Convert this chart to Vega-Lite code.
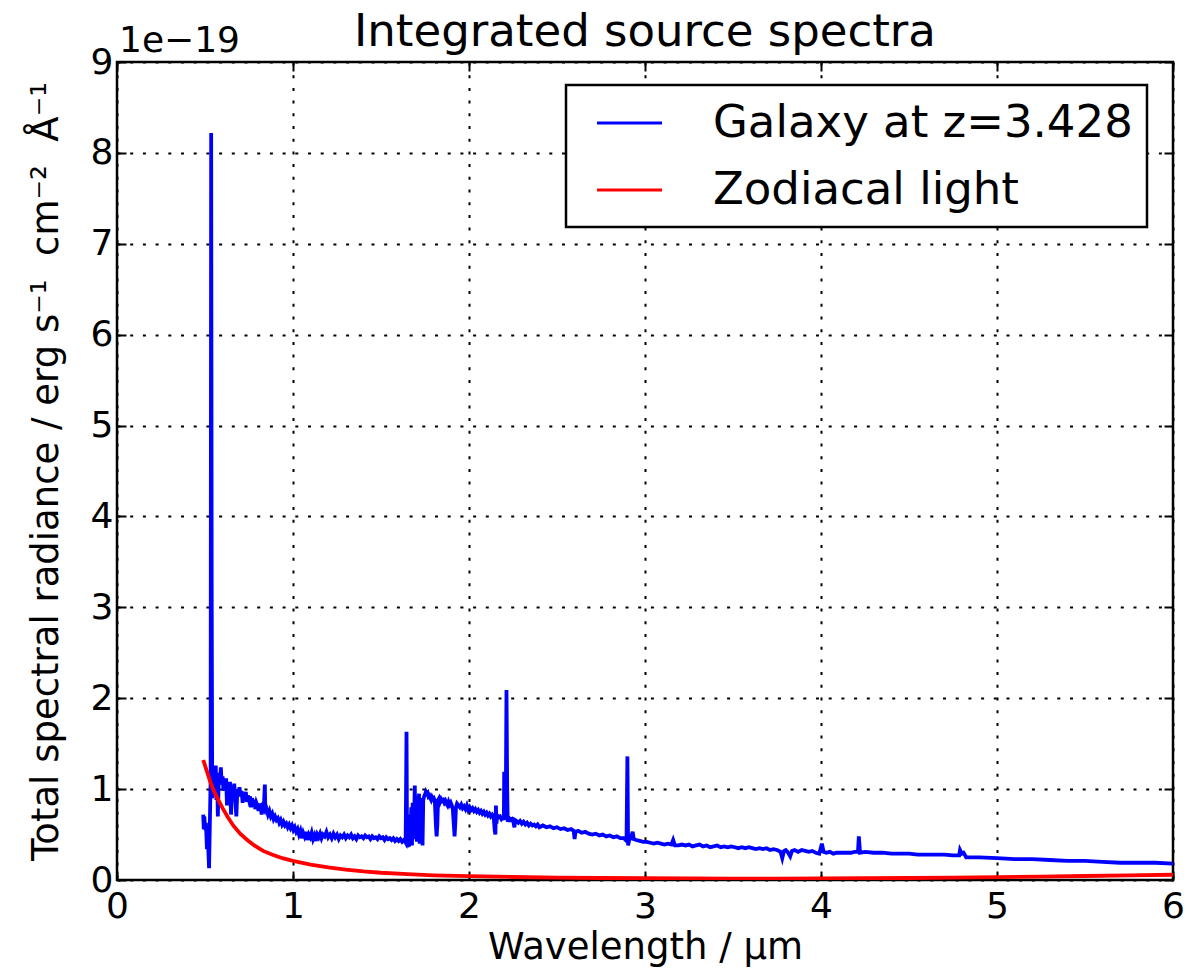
{
  "$schema": "https://vega.github.io/schema/vega-lite/v6.json",
  "width": 1056,
  "height": 818,
  "autosize": "none",
  "padding": {"left": 117, "top": 62, "right": 17, "bottom": 94},
  "background": "white",
  "title": {
    "text": "Integrated source spectra",
    "fontSize": 45,
    "fontWeight": "normal",
    "font": "DejaVu Sans",
    "color": "black",
    "anchor": "middle",
    "offset": -32
  },
  "config": {
    "font": "DejaVu Sans",
    "view": {"stroke": "black", "strokeWidth": 2.5},
    "axis": {
      "labelFont": "DejaVu Sans",
      "titleFont": "DejaVu Sans",
      "labelColor": "black",
      "titleColor": "black",
      "titleFontWeight": "normal",
      "labelFontSize": 36,
      "titleFontSize": 37,
      "labelFlush": false,
      "tickColor": "black",
      "tickWidth": 2,
      "tickSize": -9,
      "domain": false,
      "gridColor": "black",
      "gridOpacity": 1,
      "gridDash": [3, 9.7],
      "gridWidth": 2
    },
    "legend": {"strokeWidth": 2.5}
  },
  "datasets": {
    "galaxy": [
      {"wavelength": 0.490, "radiance": 0.72}, {"wavelength": 0.493, "radiance": 0.56}, {"wavelength": 0.496, "radiance": 0.70},
      {"wavelength": 0.499, "radiance": 0.62}, {"wavelength": 0.502, "radiance": 0.55}, {"wavelength": 0.505, "radiance": 0.63},
      {"wavelength": 0.508, "radiance": 0.50}, {"wavelength": 0.511, "radiance": 0.34}, {"wavelength": 0.514, "radiance": 0.58},
      {"wavelength": 0.517, "radiance": 0.47}, {"wavelength": 0.520, "radiance": 0.28}, {"wavelength": 0.523, "radiance": 0.13},
      {"wavelength": 0.526, "radiance": 0.45}, {"wavelength": 0.529, "radiance": 0.78}, {"wavelength": 0.532, "radiance": 1.10},
      {"wavelength": 0.535, "radiance": 8.22}, {"wavelength": 0.538, "radiance": 3.20}, {"wavelength": 0.541, "radiance": 0.90},
      {"wavelength": 0.545, "radiance": 1.15}, {"wavelength": 0.549, "radiance": 0.95}, {"wavelength": 0.553, "radiance": 1.22},
      {"wavelength": 0.557, "radiance": 1.05}, {"wavelength": 0.561, "radiance": 1.26}, {"wavelength": 0.565, "radiance": 0.88},
      {"wavelength": 0.569, "radiance": 1.12}, {"wavelength": 0.573, "radiance": 0.70}, {"wavelength": 0.577, "radiance": 1.02},
      {"wavelength": 0.581, "radiance": 1.18}, {"wavelength": 0.585, "radiance": 1.08}, {"wavelength": 0.590, "radiance": 1.24},
      {"wavelength": 0.595, "radiance": 1.05}, {"wavelength": 0.600, "radiance": 1.14}, {"wavelength": 0.605, "radiance": 0.98},
      {"wavelength": 0.610, "radiance": 1.10}, {"wavelength": 0.615, "radiance": 1.02}, {"wavelength": 0.620, "radiance": 1.12},
      {"wavelength": 0.625, "radiance": 0.82}, {"wavelength": 0.630, "radiance": 1.05}, {"wavelength": 0.636, "radiance": 0.98},
      {"wavelength": 0.642, "radiance": 1.08}, {"wavelength": 0.648, "radiance": 0.72}, {"wavelength": 0.654, "radiance": 1.02},
      {"wavelength": 0.660, "radiance": 0.95}, {"wavelength": 0.666, "radiance": 1.06}, {"wavelength": 0.672, "radiance": 0.90},
      {"wavelength": 0.678, "radiance": 0.70}, {"wavelength": 0.684, "radiance": 1.00}, {"wavelength": 0.690, "radiance": 0.94},
      {"wavelength": 0.696, "radiance": 1.02}, {"wavelength": 0.702, "radiance": 0.92}, {"wavelength": 0.708, "radiance": 0.98},
      {"wavelength": 0.714, "radiance": 0.85}, {"wavelength": 0.720, "radiance": 0.96}, {"wavelength": 0.726, "radiance": 0.90},
      {"wavelength": 0.732, "radiance": 0.97}, {"wavelength": 0.738, "radiance": 0.86}, {"wavelength": 0.744, "radiance": 0.93},
      {"wavelength": 0.750, "radiance": 0.88}, {"wavelength": 0.756, "radiance": 0.92}, {"wavelength": 0.762, "radiance": 0.80},
      {"wavelength": 0.768, "radiance": 0.90}, {"wavelength": 0.774, "radiance": 0.84}, {"wavelength": 0.780, "radiance": 0.88},
      {"wavelength": 0.786, "radiance": 0.78}, {"wavelength": 0.792, "radiance": 0.85}, {"wavelength": 0.798, "radiance": 0.82},
      {"wavelength": 0.804, "radiance": 0.76}, {"wavelength": 0.810, "radiance": 0.84}, {"wavelength": 0.816, "radiance": 0.80},
      {"wavelength": 0.822, "radiance": 0.72}, {"wavelength": 0.828, "radiance": 0.80}, {"wavelength": 0.834, "radiance": 0.78},
      {"wavelength": 0.840, "radiance": 1.05}, {"wavelength": 0.843, "radiance": 0.74}, {"wavelength": 0.850, "radiance": 0.78},
      {"wavelength": 0.858, "radiance": 0.72}, {"wavelength": 0.866, "radiance": 0.76}, {"wavelength": 0.874, "radiance": 0.70},
      {"wavelength": 0.882, "radiance": 0.73}, {"wavelength": 0.890, "radiance": 0.67}, {"wavelength": 0.898, "radiance": 0.70},
      {"wavelength": 0.906, "radiance": 0.66}, {"wavelength": 0.914, "radiance": 0.68}, {"wavelength": 0.922, "radiance": 0.63},
      {"wavelength": 0.930, "radiance": 0.66}, {"wavelength": 0.938, "radiance": 0.61}, {"wavelength": 0.946, "radiance": 0.64},
      {"wavelength": 0.954, "radiance": 0.60}, {"wavelength": 0.962, "radiance": 0.62}, {"wavelength": 0.970, "radiance": 0.58},
      {"wavelength": 0.978, "radiance": 0.61}, {"wavelength": 0.986, "radiance": 0.57}, {"wavelength": 0.994, "radiance": 0.60},
      {"wavelength": 1.002, "radiance": 0.55}, {"wavelength": 1.010, "radiance": 0.58}, {"wavelength": 1.018, "radiance": 0.53},
      {"wavelength": 1.026, "radiance": 0.56}, {"wavelength": 1.034, "radiance": 0.50}, {"wavelength": 1.042, "radiance": 0.54},
      {"wavelength": 1.050, "radiance": 0.46}, {"wavelength": 1.058, "radiance": 0.52}, {"wavelength": 1.066, "radiance": 0.48},
      {"wavelength": 1.074, "radiance": 0.53}, {"wavelength": 1.082, "radiance": 0.44}, {"wavelength": 1.090, "radiance": 0.50},
      {"wavelength": 1.098, "radiance": 0.47}, {"wavelength": 1.106, "radiance": 0.52}, {"wavelength": 1.114, "radiance": 0.45},
      {"wavelength": 1.122, "radiance": 0.49}, {"wavelength": 1.130, "radiance": 0.43}, {"wavelength": 1.138, "radiance": 0.50},
      {"wavelength": 1.146, "radiance": 0.47}, {"wavelength": 1.154, "radiance": 0.51}, {"wavelength": 1.162, "radiance": 0.46},
      {"wavelength": 1.170, "radiance": 0.50}, {"wavelength": 1.180, "radiance": 0.48}, {"wavelength": 1.190, "radiance": 0.53},
      {"wavelength": 1.200, "radiance": 0.47}, {"wavelength": 1.210, "radiance": 0.50}, {"wavelength": 1.220, "radiance": 0.46},
      {"wavelength": 1.230, "radiance": 0.51}, {"wavelength": 1.240, "radiance": 0.47}, {"wavelength": 1.250, "radiance": 0.50},
      {"wavelength": 1.260, "radiance": 0.45}, {"wavelength": 1.270, "radiance": 0.49}, {"wavelength": 1.280, "radiance": 0.47},
      {"wavelength": 1.290, "radiance": 0.50}, {"wavelength": 1.300, "radiance": 0.46}, {"wavelength": 1.310, "radiance": 0.49},
      {"wavelength": 1.320, "radiance": 0.47}, {"wavelength": 1.330, "radiance": 0.50}, {"wavelength": 1.340, "radiance": 0.46},
      {"wavelength": 1.350, "radiance": 0.48}, {"wavelength": 1.360, "radiance": 0.45}, {"wavelength": 1.370, "radiance": 0.49},
      {"wavelength": 1.380, "radiance": 0.47}, {"wavelength": 1.390, "radiance": 0.48}, {"wavelength": 1.400, "radiance": 0.46},
      {"wavelength": 1.410, "radiance": 0.49}, {"wavelength": 1.420, "radiance": 0.47}, {"wavelength": 1.430, "radiance": 0.48},
      {"wavelength": 1.440, "radiance": 0.45}, {"wavelength": 1.450, "radiance": 0.48}, {"wavelength": 1.460, "radiance": 0.46},
      {"wavelength": 1.470, "radiance": 0.47}, {"wavelength": 1.480, "radiance": 0.45}, {"wavelength": 1.490, "radiance": 0.48},
      {"wavelength": 1.500, "radiance": 0.46}, {"wavelength": 1.510, "radiance": 0.47}, {"wavelength": 1.520, "radiance": 0.44},
      {"wavelength": 1.530, "radiance": 0.47}, {"wavelength": 1.540, "radiance": 0.45}, {"wavelength": 1.550, "radiance": 0.46},
      {"wavelength": 1.560, "radiance": 0.44}, {"wavelength": 1.570, "radiance": 0.46}, {"wavelength": 1.580, "radiance": 0.43},
      {"wavelength": 1.590, "radiance": 0.45}, {"wavelength": 1.600, "radiance": 0.43}, {"wavelength": 1.610, "radiance": 0.45},
      {"wavelength": 1.620, "radiance": 0.42}, {"wavelength": 1.630, "radiance": 0.44}, {"wavelength": 1.640, "radiance": 0.41},
      {"wavelength": 1.645, "radiance": 1.63}, {"wavelength": 1.648, "radiance": 0.40}, {"wavelength": 1.652, "radiance": 0.36},
      {"wavelength": 1.656, "radiance": 0.60}, {"wavelength": 1.660, "radiance": 0.37}, {"wavelength": 1.664, "radiance": 0.72},
      {"wavelength": 1.668, "radiance": 0.42}, {"wavelength": 1.672, "radiance": 0.80}, {"wavelength": 1.676, "radiance": 0.38},
      {"wavelength": 1.680, "radiance": 0.85}, {"wavelength": 1.684, "radiance": 0.45}, {"wavelength": 1.688, "radiance": 0.65},
      {"wavelength": 1.692, "radiance": 1.04}, {"wavelength": 1.696, "radiance": 0.50}, {"wavelength": 1.700, "radiance": 0.92},
      {"wavelength": 1.704, "radiance": 0.42}, {"wavelength": 1.708, "radiance": 0.88}, {"wavelength": 1.712, "radiance": 0.60},
      {"wavelength": 1.716, "radiance": 0.95}, {"wavelength": 1.720, "radiance": 0.40}, {"wavelength": 1.724, "radiance": 0.86},
      {"wavelength": 1.728, "radiance": 0.90}, {"wavelength": 1.732, "radiance": 0.80}, {"wavelength": 1.736, "radiance": 0.38},
      {"wavelength": 1.740, "radiance": 0.88}, {"wavelength": 1.745, "radiance": 0.92}, {"wavelength": 1.750, "radiance": 0.94},
      {"wavelength": 1.755, "radiance": 0.97}, {"wavelength": 1.760, "radiance": 0.95}, {"wavelength": 1.765, "radiance": 0.96},
      {"wavelength": 1.770, "radiance": 0.92}, {"wavelength": 1.775, "radiance": 0.93}, {"wavelength": 1.780, "radiance": 0.90},
      {"wavelength": 1.785, "radiance": 0.88}, {"wavelength": 1.790, "radiance": 0.91}, {"wavelength": 1.795, "radiance": 0.89},
      {"wavelength": 1.800, "radiance": 0.90}, {"wavelength": 1.806, "radiance": 0.87}, {"wavelength": 1.812, "radiance": 0.60},
      {"wavelength": 1.816, "radiance": 0.48}, {"wavelength": 1.820, "radiance": 0.60}, {"wavelength": 1.824, "radiance": 0.88},
      {"wavelength": 1.830, "radiance": 0.90}, {"wavelength": 1.836, "radiance": 0.86}, {"wavelength": 1.842, "radiance": 0.89},
      {"wavelength": 1.848, "radiance": 0.87}, {"wavelength": 1.854, "radiance": 0.88}, {"wavelength": 1.860, "radiance": 0.85},
      {"wavelength": 1.866, "radiance": 0.87}, {"wavelength": 1.872, "radiance": 0.84}, {"wavelength": 1.878, "radiance": 0.82},
      {"wavelength": 1.884, "radiance": 0.86}, {"wavelength": 1.890, "radiance": 0.83}, {"wavelength": 1.896, "radiance": 0.85},
      {"wavelength": 1.902, "radiance": 0.82}, {"wavelength": 1.908, "radiance": 0.78}, {"wavelength": 1.914, "radiance": 0.60},
      {"wavelength": 1.918, "radiance": 0.48}, {"wavelength": 1.922, "radiance": 0.62}, {"wavelength": 1.926, "radiance": 0.80},
      {"wavelength": 1.932, "radiance": 0.84}, {"wavelength": 1.940, "radiance": 0.82}, {"wavelength": 1.948, "radiance": 0.80},
      {"wavelength": 1.956, "radiance": 0.83}, {"wavelength": 1.964, "radiance": 0.79}, {"wavelength": 1.972, "radiance": 0.81},
      {"wavelength": 1.980, "radiance": 0.78}, {"wavelength": 1.988, "radiance": 0.82}, {"wavelength": 1.996, "radiance": 0.77},
      {"wavelength": 2.004, "radiance": 0.80}, {"wavelength": 2.012, "radiance": 0.77}, {"wavelength": 2.020, "radiance": 0.79},
      {"wavelength": 2.028, "radiance": 0.76}, {"wavelength": 2.036, "radiance": 0.78}, {"wavelength": 2.044, "radiance": 0.75},
      {"wavelength": 2.052, "radiance": 0.77}, {"wavelength": 2.060, "radiance": 0.74}, {"wavelength": 2.068, "radiance": 0.76},
      {"wavelength": 2.076, "radiance": 0.73}, {"wavelength": 2.084, "radiance": 0.75}, {"wavelength": 2.092, "radiance": 0.72},
      {"wavelength": 2.100, "radiance": 0.74}, {"wavelength": 2.108, "radiance": 0.71}, {"wavelength": 2.116, "radiance": 0.73},
      {"wavelength": 2.124, "radiance": 0.70}, {"wavelength": 2.132, "radiance": 0.72}, {"wavelength": 2.140, "radiance": 0.70},
      {"wavelength": 2.146, "radiance": 0.55}, {"wavelength": 2.150, "radiance": 0.50}, {"wavelength": 2.153, "radiance": 0.82},
      {"wavelength": 2.156, "radiance": 0.62}, {"wavelength": 2.160, "radiance": 0.71}, {"wavelength": 2.168, "radiance": 0.69},
      {"wavelength": 2.176, "radiance": 0.70}, {"wavelength": 2.184, "radiance": 0.67}, {"wavelength": 2.192, "radiance": 0.69},
      {"wavelength": 2.198, "radiance": 0.66}, {"wavelength": 2.200, "radiance": 1.19}, {"wavelength": 2.206, "radiance": 0.68},
      {"wavelength": 2.210, "radiance": 1.15}, {"wavelength": 2.213, "radiance": 2.09}, {"wavelength": 2.217, "radiance": 1.00},
      {"wavelength": 2.220, "radiance": 0.64}, {"wavelength": 2.228, "radiance": 0.68}, {"wavelength": 2.236, "radiance": 0.66},
      {"wavelength": 2.244, "radiance": 0.67}, {"wavelength": 2.252, "radiance": 0.64}, {"wavelength": 2.258, "radiance": 0.58},
      {"wavelength": 2.262, "radiance": 0.66}, {"wavelength": 2.270, "radiance": 0.65}, {"wavelength": 2.280, "radiance": 0.63},
      {"wavelength": 2.290, "radiance": 0.65}, {"wavelength": 2.300, "radiance": 0.62}, {"wavelength": 2.310, "radiance": 0.64},
      {"wavelength": 2.320, "radiance": 0.61}, {"wavelength": 2.330, "radiance": 0.63}, {"wavelength": 2.340, "radiance": 0.60},
      {"wavelength": 2.350, "radiance": 0.62}, {"wavelength": 2.360, "radiance": 0.60}, {"wavelength": 2.370, "radiance": 0.61},
      {"wavelength": 2.380, "radiance": 0.59}, {"wavelength": 2.390, "radiance": 0.61}, {"wavelength": 2.400, "radiance": 0.58},
      {"wavelength": 2.420, "radiance": 0.60}, {"wavelength": 2.440, "radiance": 0.58}, {"wavelength": 2.460, "radiance": 0.59},
      {"wavelength": 2.480, "radiance": 0.57}, {"wavelength": 2.500, "radiance": 0.58}, {"wavelength": 2.520, "radiance": 0.56},
      {"wavelength": 2.540, "radiance": 0.57}, {"wavelength": 2.560, "radiance": 0.55}, {"wavelength": 2.580, "radiance": 0.56},
      {"wavelength": 2.595, "radiance": 0.54}, {"wavelength": 2.600, "radiance": 0.45}, {"wavelength": 2.605, "radiance": 0.53},
      {"wavelength": 2.620, "radiance": 0.54}, {"wavelength": 2.640, "radiance": 0.52}, {"wavelength": 2.660, "radiance": 0.53},
      {"wavelength": 2.680, "radiance": 0.51}, {"wavelength": 2.700, "radiance": 0.50}, {"wavelength": 2.720, "radiance": 0.51},
      {"wavelength": 2.740, "radiance": 0.49}, {"wavelength": 2.760, "radiance": 0.50}, {"wavelength": 2.780, "radiance": 0.48},
      {"wavelength": 2.800, "radiance": 0.49}, {"wavelength": 2.820, "radiance": 0.47}, {"wavelength": 2.840, "radiance": 0.48},
      {"wavelength": 2.860, "radiance": 0.46}, {"wavelength": 2.880, "radiance": 0.46}, {"wavelength": 2.895, "radiance": 0.43},
      {"wavelength": 2.900, "radiance": 1.36}, {"wavelength": 2.904, "radiance": 0.38}, {"wavelength": 2.910, "radiance": 0.44},
      {"wavelength": 2.920, "radiance": 0.46}, {"wavelength": 2.930, "radiance": 0.53}, {"wavelength": 2.936, "radiance": 0.45},
      {"wavelength": 2.950, "radiance": 0.44}, {"wavelength": 2.970, "radiance": 0.43}, {"wavelength": 2.990, "radiance": 0.42},
      {"wavelength": 3.010, "radiance": 0.42}, {"wavelength": 3.030, "radiance": 0.41}, {"wavelength": 3.050, "radiance": 0.40},
      {"wavelength": 3.070, "radiance": 0.41}, {"wavelength": 3.090, "radiance": 0.40}, {"wavelength": 3.110, "radiance": 0.39},
      {"wavelength": 3.130, "radiance": 0.40}, {"wavelength": 3.150, "radiance": 0.39}, {"wavelength": 3.160, "radiance": 0.44},
      {"wavelength": 3.170, "radiance": 0.38}, {"wavelength": 3.190, "radiance": 0.38}, {"wavelength": 3.210, "radiance": 0.39},
      {"wavelength": 3.230, "radiance": 0.38}, {"wavelength": 3.250, "radiance": 0.39}, {"wavelength": 3.270, "radiance": 0.37},
      {"wavelength": 3.290, "radiance": 0.38}, {"wavelength": 3.310, "radiance": 0.39}, {"wavelength": 3.330, "radiance": 0.37},
      {"wavelength": 3.350, "radiance": 0.38}, {"wavelength": 3.370, "radiance": 0.36}, {"wavelength": 3.390, "radiance": 0.37},
      {"wavelength": 3.410, "radiance": 0.38}, {"wavelength": 3.430, "radiance": 0.36}, {"wavelength": 3.450, "radiance": 0.37},
      {"wavelength": 3.470, "radiance": 0.36}, {"wavelength": 3.490, "radiance": 0.37}, {"wavelength": 3.510, "radiance": 0.36},
      {"wavelength": 3.530, "radiance": 0.35}, {"wavelength": 3.550, "radiance": 0.36}, {"wavelength": 3.570, "radiance": 0.35},
      {"wavelength": 3.590, "radiance": 0.36}, {"wavelength": 3.610, "radiance": 0.35}, {"wavelength": 3.630, "radiance": 0.34},
      {"wavelength": 3.650, "radiance": 0.35}, {"wavelength": 3.670, "radiance": 0.34}, {"wavelength": 3.690, "radiance": 0.35},
      {"wavelength": 3.710, "radiance": 0.33}, {"wavelength": 3.730, "radiance": 0.34}, {"wavelength": 3.750, "radiance": 0.33},
      {"wavelength": 3.770, "radiance": 0.31}, {"wavelength": 3.780, "radiance": 0.24}, {"wavelength": 3.790, "radiance": 0.32},
      {"wavelength": 3.800, "radiance": 0.33}, {"wavelength": 3.810, "radiance": 0.31}, {"wavelength": 3.825, "radiance": 0.26},
      {"wavelength": 3.835, "radiance": 0.32}, {"wavelength": 3.850, "radiance": 0.33}, {"wavelength": 3.870, "radiance": 0.31},
      {"wavelength": 3.890, "radiance": 0.33}, {"wavelength": 3.910, "radiance": 0.32}, {"wavelength": 3.930, "radiance": 0.31},
      {"wavelength": 3.950, "radiance": 0.32}, {"wavelength": 3.970, "radiance": 0.30}, {"wavelength": 3.990, "radiance": 0.29},
      {"wavelength": 4.005, "radiance": 0.40}, {"wavelength": 4.015, "radiance": 0.31}, {"wavelength": 4.030, "radiance": 0.30},
      {"wavelength": 4.050, "radiance": 0.31}, {"wavelength": 4.070, "radiance": 0.29}, {"wavelength": 4.090, "radiance": 0.30},
      {"wavelength": 4.110, "radiance": 0.30}, {"wavelength": 4.130, "radiance": 0.30}, {"wavelength": 4.150, "radiance": 0.30},
      {"wavelength": 4.170, "radiance": 0.30}, {"wavelength": 4.190, "radiance": 0.31}, {"wavelength": 4.210, "radiance": 0.31},
      {"wavelength": 4.215, "radiance": 0.48}, {"wavelength": 4.222, "radiance": 0.30}, {"wavelength": 4.250, "radiance": 0.31},
      {"wavelength": 4.300, "radiance": 0.30}, {"wavelength": 4.350, "radiance": 0.30}, {"wavelength": 4.400, "radiance": 0.29},
      {"wavelength": 4.450, "radiance": 0.29}, {"wavelength": 4.500, "radiance": 0.29}, {"wavelength": 4.550, "radiance": 0.28},
      {"wavelength": 4.600, "radiance": 0.28}, {"wavelength": 4.650, "radiance": 0.28}, {"wavelength": 4.700, "radiance": 0.28},
      {"wavelength": 4.750, "radiance": 0.27}, {"wavelength": 4.785, "radiance": 0.27}, {"wavelength": 4.790, "radiance": 0.33},
      {"wavelength": 4.800, "radiance": 0.29}, {"wavelength": 4.810, "radiance": 0.30}, {"wavelength": 4.825, "radiance": 0.25},
      {"wavelength": 4.850, "radiance": 0.25}, {"wavelength": 4.900, "radiance": 0.25}, {"wavelength": 5.000, "radiance": 0.24},
      {"wavelength": 5.100, "radiance": 0.23}, {"wavelength": 5.200, "radiance": 0.23}, {"wavelength": 5.300, "radiance": 0.22},
      {"wavelength": 5.400, "radiance": 0.21}, {"wavelength": 5.500, "radiance": 0.21}, {"wavelength": 5.600, "radiance": 0.20},
      {"wavelength": 5.700, "radiance": 0.19}, {"wavelength": 5.800, "radiance": 0.19}, {"wavelength": 5.900, "radiance": 0.19},
      {"wavelength": 6.000, "radiance": 0.18}
    ],
    "zodiacal": [
      {"wavelength": 0.49, "radiance": 1.32}, {"wavelength": 0.51, "radiance": 1.20}, {"wavelength": 0.53, "radiance": 1.08},
      {"wavelength": 0.55, "radiance": 0.98}, {"wavelength": 0.57, "radiance": 0.90}, {"wavelength": 0.60, "radiance": 0.79},
      {"wavelength": 0.63, "radiance": 0.69}, {"wavelength": 0.66, "radiance": 0.60}, {"wavelength": 0.70, "radiance": 0.51},
      {"wavelength": 0.74, "radiance": 0.44}, {"wavelength": 0.78, "radiance": 0.38}, {"wavelength": 0.83, "radiance": 0.32},
      {"wavelength": 0.88, "radiance": 0.28}, {"wavelength": 0.94, "radiance": 0.24}, {"wavelength": 1.00, "radiance": 0.21},
      {"wavelength": 1.10, "radiance": 0.17}, {"wavelength": 1.20, "radiance": 0.14}, {"wavelength": 1.30, "radiance": 0.115},
      {"wavelength": 1.40, "radiance": 0.095}, {"wavelength": 1.50, "radiance": 0.08}, {"wavelength": 1.65, "radiance": 0.065},
      {"wavelength": 1.80, "radiance": 0.052}, {"wavelength": 2.00, "radiance": 0.042}, {"wavelength": 2.25, "radiance": 0.033},
      {"wavelength": 2.50, "radiance": 0.027}, {"wavelength": 2.75, "radiance": 0.022}, {"wavelength": 3.00, "radiance": 0.019},
      {"wavelength": 3.25, "radiance": 0.017}, {"wavelength": 3.50, "radiance": 0.016}, {"wavelength": 3.75, "radiance": 0.016},
      {"wavelength": 4.00, "radiance": 0.017}, {"wavelength": 4.25, "radiance": 0.019}, {"wavelength": 4.50, "radiance": 0.022},
      {"wavelength": 4.75, "radiance": 0.026}, {"wavelength": 5.00, "radiance": 0.031}, {"wavelength": 5.25, "radiance": 0.037},
      {"wavelength": 5.50, "radiance": 0.044}, {"wavelength": 5.75, "radiance": 0.051}, {"wavelength": 6.00, "radiance": 0.058}
    ]
  },
  "layer": [
    {
      "data": {"name": "galaxy"},
      "mark": {"type": "line", "strokeWidth": 3.8, "clip": true},
      "encoding": {
        "x": {
          "field": "wavelength",
          "type": "quantitative",
          "scale": {"domain": [0, 6], "nice": false, "zero": false},
          "axis": {
            "orient": "bottom",
            "values": [0, 1, 2, 3, 4, 5, 6],
            "format": "d",
            "grid": true,
            "labelPadding": 18,
            "title": "Wavelength / µm",
            "titlePadding": 5
          }
        },
        "y": {
          "field": "radiance",
          "type": "quantitative",
          "scale": {"domain": [0, 9], "nice": false},
          "axis": {
            "orient": "left",
            "values": [0, 1, 2, 3, 4, 5, 6, 7, 8, 9],
            "format": "d",
            "grid": true,
            "labelPadding": 13,
            "title": "Total spectral radiance / erg s⁻¹\u00a0\u00a0cm⁻²\u00a0\u00a0Å⁻¹",
            "titlePadding": 25
          }
        },
        "color": {
          "datum": "Galaxy at z=3.428",
          "scale": {
            "domain": ["Galaxy at z=3.428", "Zodiacal light"],
            "range": ["#0000ff", "#ff0000"]
          },
          "legend": {
            "title": null,
            "orient": "none",
            "legendX": 449,
            "legendY": 23,
            "symbolType": "M-0.31,0H2.58",
            "symbolSize": 2025,
            "symbolStrokeWidth": 3,
            "labelFont": "DejaVu Sans",
            "labelFontSize": 45,
            "labelColor": "black",
            "labelLimit": 0,
            "labelOffset": 85,
            "padding": 14,
            "rowPadding": 20,
            "strokeColor": "black",
            "fillColor": "white",
            "cornerRadius": 0
          }
        }
      }
    },
    {
      "data": {"name": "zodiacal"},
      "mark": {"type": "line", "strokeWidth": 3.8, "clip": true},
      "encoding": {
        "x": {
          "field": "wavelength",
          "type": "quantitative",
          "axis": {
            "orient": "top",
            "values": [0, 1, 2, 3, 4, 5, 6],
            "labels": false,
            "grid": false,
            "title": null
          }
        },
        "y": {
          "field": "radiance",
          "type": "quantitative",
          "axis": {
            "orient": "right",
            "values": [0, 1, 2, 3, 4, 5, 6, 7, 8, 9],
            "labels": false,
            "grid": false,
            "title": null
          }
        },
        "color": {"datum": "Zodiacal light"}
      }
    },
    {
      "data": {"values": [{"label": "1e−19"}]},
      "mark": {
        "type": "text",
        "align": "left",
        "baseline": "alphabetic",
        "dx": 2,
        "dy": -10,
        "fontSize": 36,
        "font": "DejaVu Sans",
        "color": "black",
        "clip": false
      },
      "encoding": {
        "x": {"datum": 0, "type": "quantitative", "axis": null},
        "y": {"datum": 9, "type": "quantitative", "axis": null},
        "text": {"field": "label"}
      }
    }
  ],
  "resolve": {"axis": {"x": "independent", "y": "independent"}}
}
